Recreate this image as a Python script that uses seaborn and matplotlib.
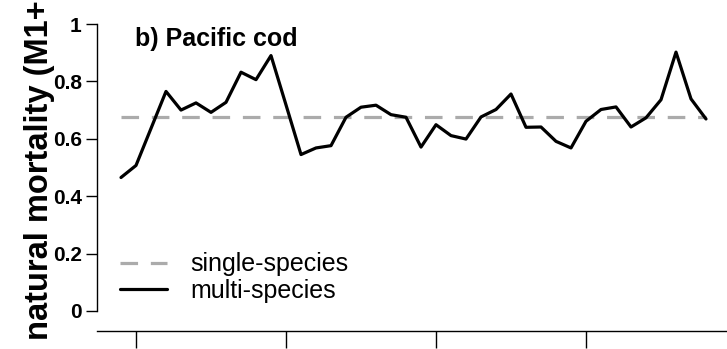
import matplotlib
matplotlib.use("Agg")
import matplotlib.pyplot as plt
import pandas as pd
import seaborn as sns

# Pacific cod natural mortality by year
years = list(range(1979, 2019))
multi_species = [0.465, 0.507, 0.636, 0.765, 0.700, 0.725, 0.692, 0.727, 0.832, 0.806,
                 0.890, 0.718, 0.545, 0.568, 0.576, 0.675, 0.710, 0.717, 0.684, 0.675,
                 0.571, 0.649, 0.611, 0.599, 0.676, 0.702, 0.756, 0.640, 0.641, 0.591,
                 0.568, 0.661, 0.702, 0.711, 0.641, 0.673, 0.736, 0.902, 0.739, 0.669]
single_species_m = 0.675
series_names = ["single-species", "multi-species"]
x_ticks = [1980, 1990, 2000, 2010]
y_ticks = [0, 0.2, 0.4, 0.6, 0.8, 1.0]
y_tick_labels = ["0", "0.2", "0.4", "0.6", "0.8", "1"]
panel_title = "b) Pacific cod"
y_label = "natural mortality (M1+M2)"

df = pd.DataFrame({
    "year": years + years,
    "M": [single_species_m] * len(years) + multi_species,
    "model": [series_names[0]] * len(years) + [series_names[1]] * len(years),
})

sns.set_style("ticks")
plt.rcParams["font.family"] = ["Liberation Sans", "DejaVu Sans"]
for key in ("text.color", "axes.labelcolor", "xtick.color", "ytick.color", "axes.edgecolor"):
    plt.rcParams[key] = "black"

W, H = 727, 349
fig = plt.figure(figsize=(W / 100, H / 100), dpi=100)
ax = fig.add_axes([97 / W, 1 - 331 / H, 630 / W, 307 / H])

sns.lineplot(
    data=df, x="year", y="M", hue="model", style="model",
    hue_order=series_names, style_order=series_names,
    palette={series_names[0]: "#ababab", series_names[1]: "black"},
    dashes={series_names[0]: (5.5, 4), series_names[1]: ""},
    linewidth=2.3, ax=ax,
)

ax.set_xlim(1977.4, 2019.4)
ax.set_ylim(-0.07, 1.0)
ax.set_xticks(x_ticks)
ax.set_yticks(y_ticks, y_tick_labels, fontsize=15, fontweight="bold")
ax.tick_params(axis="x", direction="out", length=12, width=1.0, labelbottom=False)
ax.tick_params(axis="y", direction="out", length=8, width=1.0, pad=3)
ax.set_xlabel("")

for side in ("top", "right"):
    ax.spines[side].set_visible(False)
for side in ("left", "bottom"):
    ax.spines[side].set_linewidth(1.0)
    ax.spines[side].set_color("black")
ax.spines["left"].set_bounds(0, 1)

ax.set_ylabel(y_label, fontsize=23.5, fontweight="bold")
ax.yaxis.set_label_coords(-0.066, 0.615)

ax.text(0.060, 0.928, panel_title, transform=ax.transAxes,
        fontsize=18, fontweight="bold", ha="left", va="baseline")

handles, labels = ax.get_legend_handles_labels()
ax.legend(handles, labels, loc="center left", bbox_to_anchor=(0.0365, 0.1736),
          frameon=False, fontsize=18, handlelength=1.88, handletextpad=0.92,
          borderpad=0, borderaxespad=0, labelspacing=0.1)

fig.savefig("out.png", dpi=100)
